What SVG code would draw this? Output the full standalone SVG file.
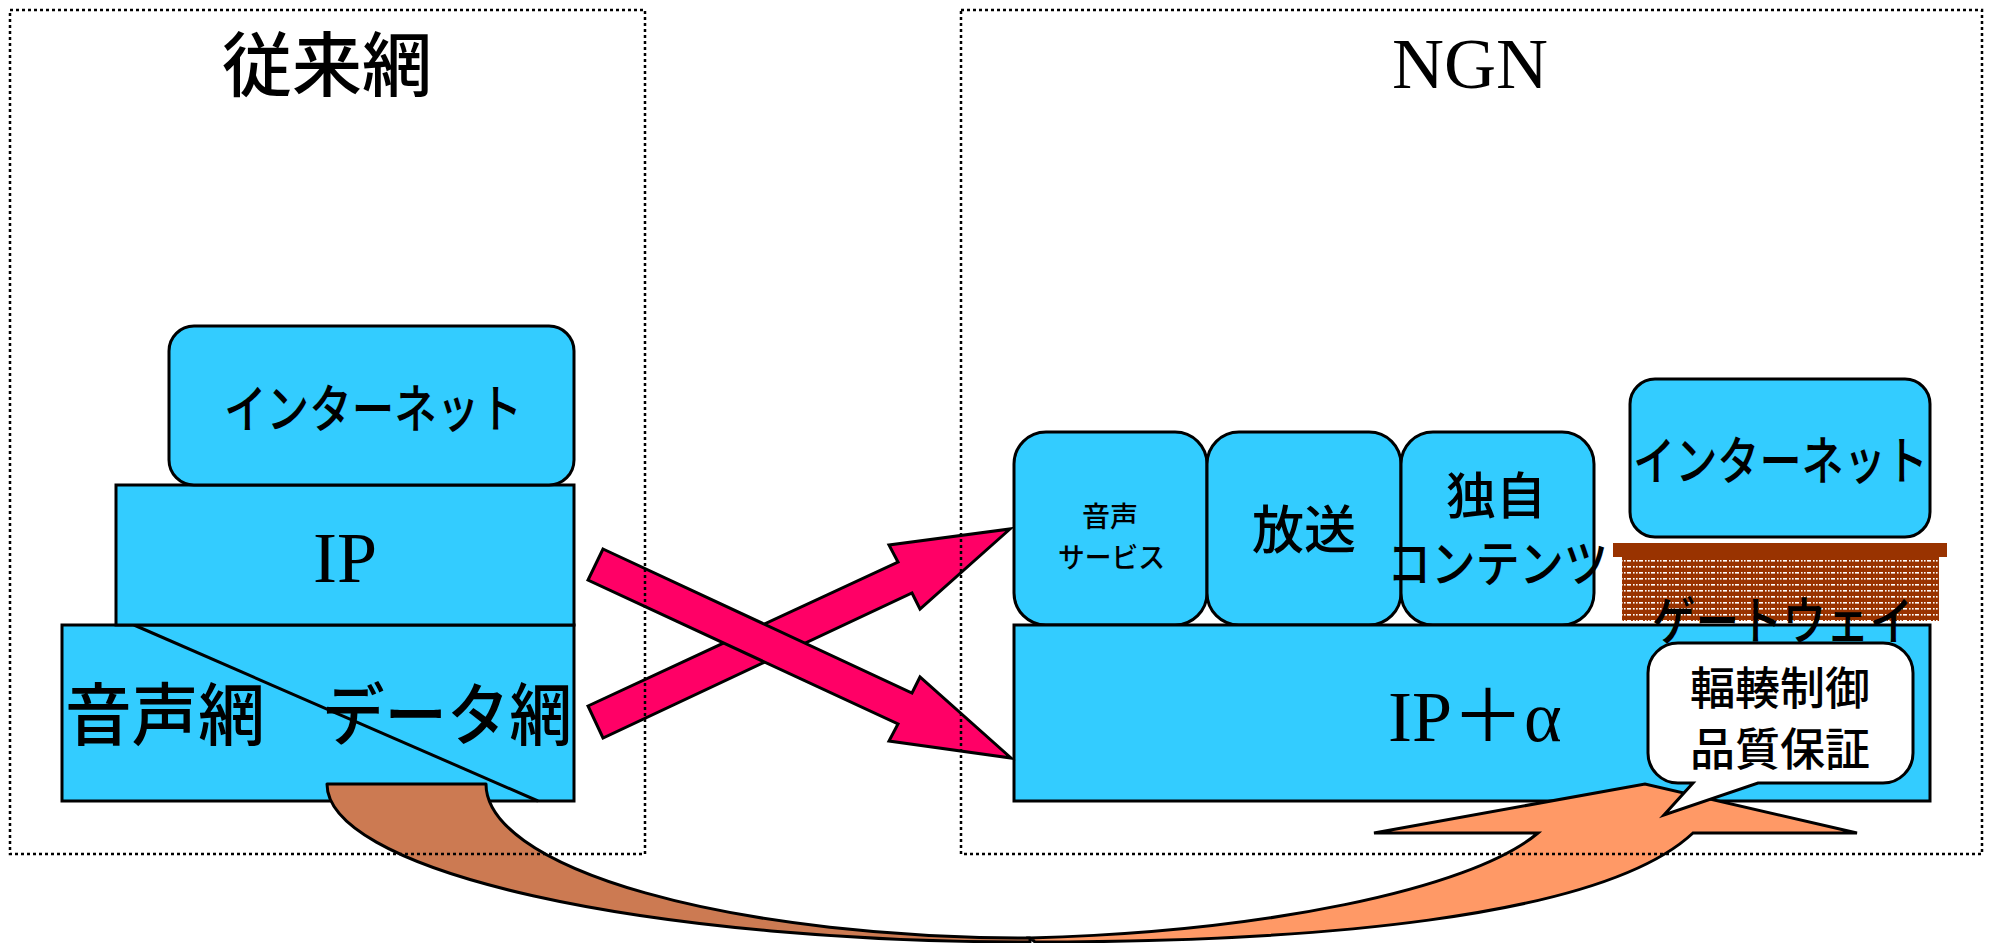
<svg xmlns="http://www.w3.org/2000/svg" width="1995" height="943" viewBox="0 0 1995 943">
<style>
.blk{fill:#33CCFF;stroke:#000;stroke-width:3}
.jp{font-family:"Noto Sans CJK JP","Noto Sans",sans-serif;font-weight:500;fill:#000}
.sf{font-family:"Liberation Serif","Noto Sans CJK JP",serif;fill:#000}
.frame{fill:none;stroke:#000;stroke-width:2.5;stroke-dasharray:3 3}
.pink{fill:#FF0066;stroke:#000;stroke-width:3;stroke-linejoin:miter}
</style>
<defs>
<pattern id="gw" width="12" height="6" patternUnits="userSpaceOnUse">
<rect width="12" height="6" fill="#993300"/>
<rect x="1" y="2" width="1.6" height="1.6" fill="#fff"/>
<rect x="4" y="2" width="1.6" height="1.6" fill="#fff"/>
<rect x="7" y="2" width="4" height="1.6" fill="#fff"/>
</pattern>
</defs>
<rect width="1995" height="943" fill="#fff"/>

<g id="legacy">
<g id="legacy-voice-data">
<rect class="blk" x="62" y="625" width="512" height="176"/>
<line x1="134" y1="625" x2="538" y2="801" stroke="#000" stroke-width="3"/>
<text class="jp" x="65" y="740" font-size="68" textLength="200" lengthAdjust="spacingAndGlyphs">音声網</text>
<text class="jp" x="322" y="740" font-size="68" textLength="250" lengthAdjust="spacingAndGlyphs">データ網</text>
</g>
<g id="legacy-ip">
<rect class="blk" x="116" y="485" width="458" height="140"/>
<text class="sf" x="345" y="582" font-size="72" text-anchor="middle">IP</text>
</g>
<g id="legacy-internet">
<rect class="blk" x="169" y="326" width="405" height="159" rx="25"/>
<text class="jp" x="224" y="428" font-size="52" textLength="298" lengthAdjust="spacingAndGlyphs">インターネット</text>
</g>
</g>

<g id="ngn">
<g id="ngn-voice">
<rect class="blk" x="1014" y="432" width="193" height="193" rx="32"/>
<text class="jp" x="1110" y="527" font-size="28" text-anchor="middle">音声</text>
<text class="jp" x="1058" y="568" font-size="28" textLength="107" lengthAdjust="spacingAndGlyphs">サービス</text>
</g>
<g id="ngn-broadcast">
<rect class="blk" x="1207" y="432" width="194" height="193" rx="32"/>
<text class="jp" x="1304" y="549" font-size="52" text-anchor="middle">放送</text>
</g>
<g id="ngn-content">
<rect class="blk" x="1401" y="432" width="193" height="193" rx="32"/>
<text class="jp" x="1496" y="514" font-size="50" text-anchor="middle">独自</text>
<text class="jp" x="1387" y="582" font-size="50" textLength="221" lengthAdjust="spacingAndGlyphs">コンテンツ</text>
</g>
<g id="ngn-internet">
<rect class="blk" x="1630" y="379" width="300" height="158" rx="25"/>
<text class="jp" x="1633" y="480" font-size="52" textLength="295" lengthAdjust="spacingAndGlyphs">インターネット</text>
</g>
<g id="ngn-ip">
<rect class="blk" x="1014" y="625" width="916" height="176"/>
<text class="sf" x="1388" y="741" font-size="72">IP＋α</text>
</g>
<g id="ngn-gateway">
<rect x="1613" y="543" width="334" height="14" fill="#993300"/>
<rect x="1622" y="557" width="317" height="64" fill="url(#gw)"/>
<text class="jp" x="1652" y="640" font-size="52" textLength="261" lengthAdjust="spacingAndGlyphs">ゲートウェイ</text>
</g>
</g>

<g id="connectors">
<polygon class="pink" points="588,706 898,562 889,545 1010,529 920,609 912,593 603,738"/>
<polygon class="pink" points="603,549 912,693 920,677 1011,758 889,741 898,724 588,580"/>
<path d="M327,784 L486,784 A544,154 0 0 0 1030,938 L1030,942 A703,158 0 0 1 327,784 Z" fill="#CC7A52" stroke="#000" stroke-width="3" stroke-linejoin="round"/>
<path d="M1374,833 L1645,784 L1857,833 L1693,833 C1600,920 1300,942 1035,942 L1030,938 C1260,932 1470,890 1538,833 Z" fill="#FF9966" stroke="#000" stroke-width="3" stroke-linejoin="miter"/>
</g>

<g id="callout">
<path d="M1678,643 H1883 A30,30 0 0 1 1913,673 V753 A30,30 0 0 1 1883,783 H1758 L1664,815 L1693,783 H1678 A30,30 0 0 1 1648,753 V673 A30,30 0 0 1 1678,643 Z" fill="#fff" stroke="#000" stroke-width="3"/>
<text class="jp" x="1780" y="705" font-size="45" text-anchor="middle">輻輳制御</text>
<text class="jp" x="1780" y="766" font-size="45" text-anchor="middle">品質保証</text>
</g>

<g id="frames">
<rect class="frame" x="10" y="10" width="635" height="844"/>
<rect class="frame" x="961" y="10" width="1021" height="844"/>
<text class="jp" x="327" y="91" font-size="70" text-anchor="middle">従来網</text>
<text class="sf" x="1470" y="88" font-size="72" text-anchor="middle">NGN</text>
</g>
</svg>
